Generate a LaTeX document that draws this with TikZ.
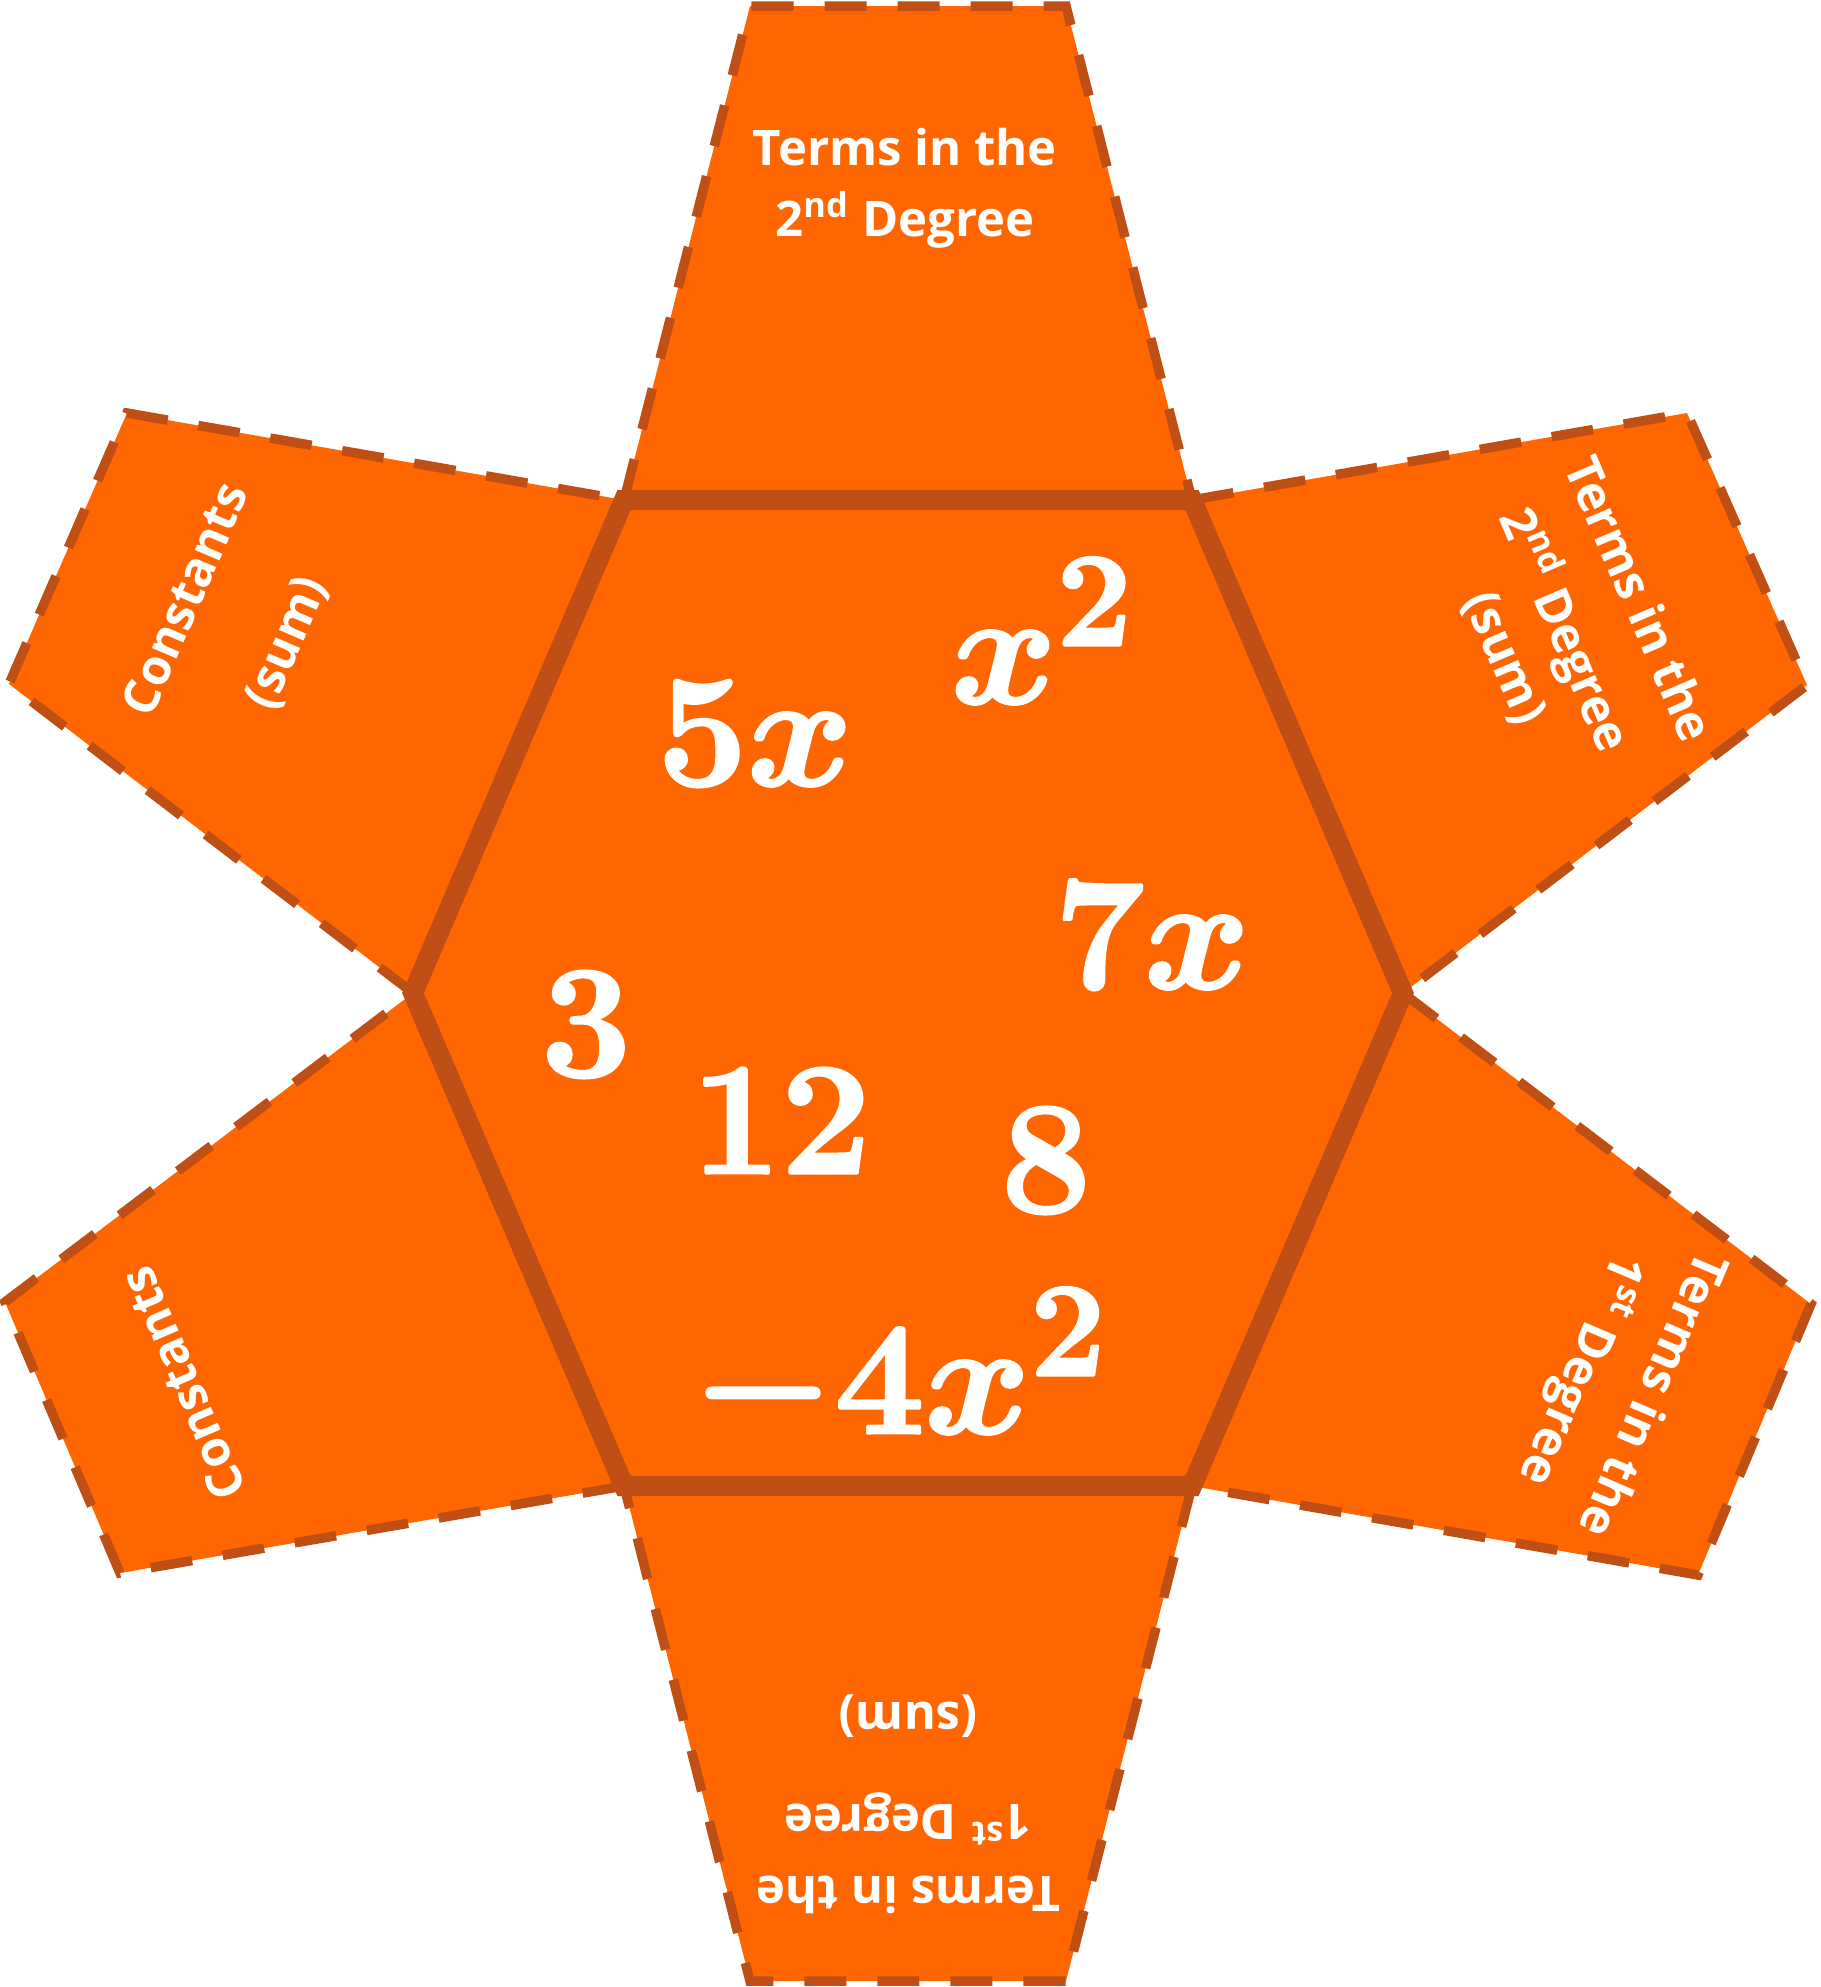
\documentclass[tikz,border=0pt]{standalone}
\usepackage{fontspec}
\newfontfamily\flapfont{Open Sans}
\definecolor{fillor}{HTML}{FF6600}
\definecolor{edgeor}{HTML}{C04F15}
\tikzset{
  flap/.style={fill=fillor},
  cutline/.style={draw=edgeor, line width=0.095cm, dash pattern=on 0.42cm off 0.31cm},
  fold/.style={draw=edgeor, line width=0.2cm, line join=miter, fill=fillor},
  flaptext/.style={text=white, font=\fontsize{13.95pt}{16pt}\flapfont\bfseries, inner sep=0pt, anchor=base},
  term/.style={text=white, font=\fontsize{24.88pt}{28pt}\selectfont\boldmath, inner sep=0pt, anchor=base, scale=1.829,
    execute at begin node={\special{pdf:literal direct 1 G 2 Tr 0.5 w 1 j}},
    execute at end node={\special{pdf:literal direct 0 Tr}}},
}
\begin{document}
\begin{tikzpicture}[x=0.01cm, y=-0.01cm]
\useasboundingbox (0,0) rectangle (1820,1987);
% hexagon vertices
\coordinate (A) at (624,500);
\coordinate (B) at (1192,500);
\coordinate (R) at (1403,993);
\coordinate (D) at (1192,1486);
\coordinate (E) at (624,1486);
\coordinate (L) at (413,993);
% outer corners of the flaps
\coordinate (t1) at (750,6);   \coordinate (t2) at (1066,6);
\coordinate (ur1) at (1687,413); \coordinate (ur2) at (1807,685);
\coordinate (lr1) at (1811,1304); \coordinate (lr2) at (1698,1575);
\coordinate (b1) at (1066,1981); \coordinate (b2) at (750,1981);
\coordinate (ll1) at (120,1573); \coordinate (ll2) at (5,1302);
\coordinate (ul1) at (9,684);   \coordinate (ul2) at (127,413);
% flaps
\fill[flap] (A) -- (t1) -- (t2) -- (B) -- cycle;
\fill[flap] (B) -- (ur1) -- (ur2) -- (R) -- cycle;
\fill[flap] (R) -- (lr1) -- (lr2) -- (D) -- cycle;
\fill[flap] (D) -- (b1) -- (b2) -- (E) -- cycle;
\fill[flap] (E) -- (ll1) -- (ll2) -- (L) -- cycle;
\fill[flap] (L) -- (ul1) -- (ul2) -- (A) -- cycle;
\draw[cutline] (A) -- (t1) -- (t2) -- (B);
\draw[cutline] (B) -- (ur1) -- (ur2) -- (R);
\draw[cutline] (R) -- (lr1) -- (lr2) -- (D);
\draw[cutline] (D) -- (b1) -- (b2) -- (E);
\draw[cutline] (E) -- (ll1) -- (ll2) -- (L);
\draw[cutline] (L) -- (ul1) -- (ul2) -- (A);
% hexagon
\draw[fold] (A) -- (B) -- (R) -- (D) -- (E) -- (L) -- cycle;
% flap labels
\begin{scope}[shift={(908,500)}, transform shape]
  \node[flaptext] (top1) at (-3,-335) {Terms in the};
  \node[flaptext] (top2) at (-3,-264) {2\textsuperscript{nd} Degree};
\end{scope}
\begin{scope}[shift={(1297.5,746.5)}, rotate=-66.83, transform shape]
  \node[flaptext] (ur1t) at (-1,-355) {Terms in the};
  \node[flaptext] (ur2t) at (-2,-275) {2\textsuperscript{nd} Degree};
  \node[flaptext] (ur3t) at (0,-210) {(sum)};
\end{scope}
\begin{scope}[shift={(1297.5,1239.5)}, rotate=-113.17, transform shape]
  \node[flaptext] (lr1t) at (3,-372) {Terms in the};
  \node[flaptext] (lr2t) at (8,-297) {1\textsuperscript{st} Degree};
\end{scope}
\begin{scope}[shift={(908,1486)}, rotate=180, transform shape]
  \node[flaptext] (bt1) at (0,-390) {Terms in the};
  \node[flaptext] (bt2) at (0,-318) {1\textsuperscript{st} Degree};
  \node[flaptext] (bt3) at (0,-216) {(sum)};
\end{scope}
\begin{scope}[shift={(518.5,1239.5)}, rotate=113.17, transform shape]
  \node[flaptext] (llt) at (0,-348) {Constants};
\end{scope}
\begin{scope}[shift={(518.5,746.5)}, rotate=66.83, transform shape]
  \node[flaptext] (ul1t) at (4,-348) {Constants};
  \node[flaptext] (ul2t) at (4,-239) {(sum)};
\end{scope}
% terms on the hexagon
\node[term] (t5x) at (755,785) {$5x$};
\node[term] (tx2) at (1043,703) {$x^2$};
\node[term] (t7x) at (1152,988) {$7x$};
\node[term] (t3) at (586,1076) {$3$};
\node[term] (t12) at (781,1173) {$12$};
\node[term] (t8) at (1046,1212) {$8$};
\node[term] (tm4x2) at (900,1433) {$-4x^2$};
\end{tikzpicture}
\end{document}
